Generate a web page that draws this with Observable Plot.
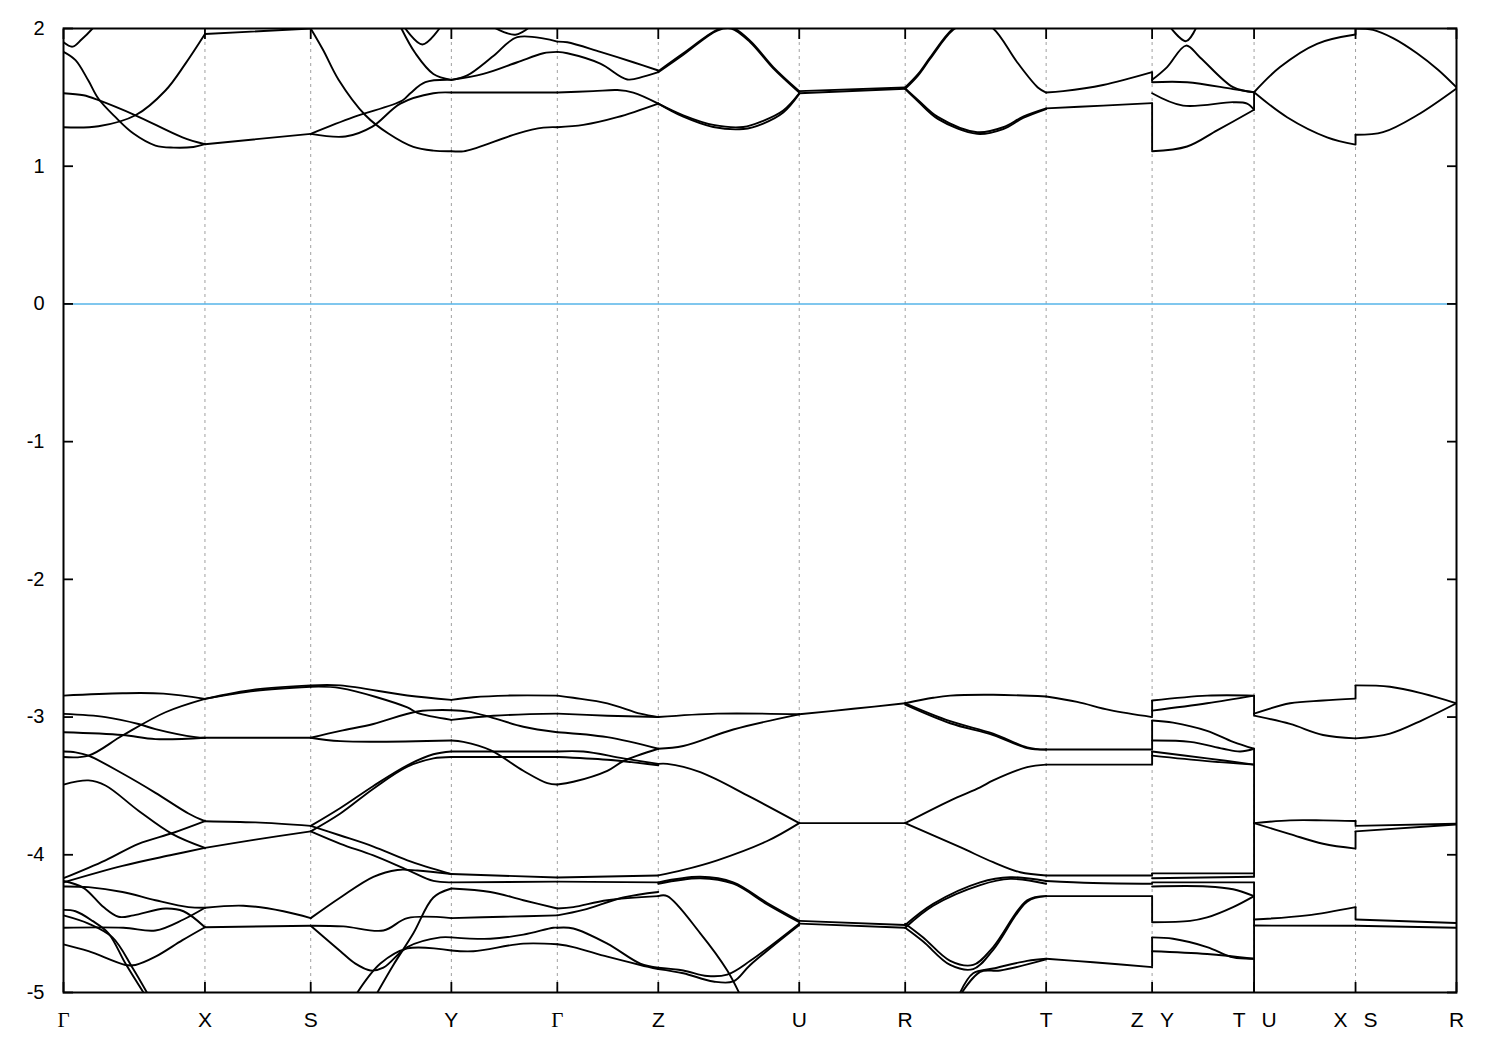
<!DOCTYPE html>
<html><head><meta charset="utf-8">
<script src="https://cdn.jsdelivr.net/npm/d3@7"></script>
<script src="https://cdn.jsdelivr.net/npm/@observablehq/plot@0.6"></script>
<style>body{margin:0;background:#fff} #chart{width:1500px;height:1050px}</style>
</head><body><div id="chart"></div>
<script>
// k-path positions of the high-symmetry points (path length units)
const kNodes = [0, 1.415, 2.473, 3.88, 4.94, 5.95, 7.36, 8.42, 9.83, 10.89, 11.91, 12.925, 13.935];
const kNames = ["Γ","X","S","Y","Γ","Z","U","R","T","Z|Y","T|U","X|S","R"];
const yTicks = [-5, -4, -3, -2, -1, 0, 1, 2];
const fermiLevel = [0];

// Conduction bands: each band is a list of [k, E(eV)]
const conductionBands = [
  // Γ–X
  [[0,1.90],[0.09,1.868],[0.18,1.92],[0.29,2.0],[0.4,2.1]],
  [[0,1.83],[0.12,1.77],[0.25,1.62],[0.35,1.49],[0.52,1.356],[0.7,1.237],[0.92,1.15],[1.1,1.135],[1.3,1.14],[1.415,1.16]],
  [[0,1.53],[0.2,1.515],[0.35,1.48],[0.72,1.37],[1.19,1.21],[1.415,1.16]],
  [[0,1.283],[0.35,1.29],[0.72,1.37],[1.02,1.55],[1.22,1.745],[1.415,1.96]],
  // X–S
  [[1.415,1.96],[2.473,2.0]],
  [[1.415,1.16],[2.473,1.235]],
  // S–Y
  [[2.473,2.0],[2.6,1.84],[2.75,1.63],[3.02,1.37],[3.25,1.237],[3.5,1.14],[3.7,1.113],[3.88,1.109]],
  [[2.473,1.235],[2.9,1.356],[3.39,1.477],[3.47,1.53],[3.62,1.61],[3.88,1.627]],
  [[2.473,1.235],[2.82,1.216],[3.09,1.288],[3.37,1.455],[3.7,1.53],[3.88,1.535]],
  [[3.38,2.0],[3.52,1.82],[3.7,1.67],[3.88,1.627]],
  [[3.4,2.02],[3.59,1.884],[3.78,2.02]],
  // Y–Γ
  [[3.88,1.109],[4.0,1.108],[4.14,1.135],[4.54,1.237],[4.8,1.28],[4.94,1.283]],
  [[3.88,1.535],[4.94,1.535]],
  [[3.88,1.627],[4.2,1.67],[4.54,1.755],[4.8,1.82],[4.94,1.83]],
  [[3.88,1.627],[4.04,1.66],[4.3,1.80],[4.54,1.937],[4.94,1.905]],
  [[4.3,2.01],[4.52,1.955],[4.68,2.02]],
  // Γ–Z
  [[4.94,1.283],[5.2,1.30],[5.54,1.356],[5.95,1.455]],
  [[4.94,1.535],[5.3,1.545],[5.54,1.553],[5.7,1.535],[5.95,1.455]],
  [[4.94,1.83],[5.04,1.82],[5.37,1.745],[5.64,1.63],[5.8,1.65],[5.95,1.683]],
  [[4.94,1.905],[5.04,1.90],[5.37,1.83],[5.7,1.755],[5.95,1.695]],
  // Z–U
  [[5.95,1.69],[6.2,1.82],[6.54,1.99],[6.68,2.01],[6.87,1.91],[7.1,1.72],[7.36,1.545]],
  [[5.95,1.683],[6.2,1.81],[6.54,1.985],[6.68,2.0],[6.87,1.90],[7.1,1.71],[7.36,1.535]],
  [[5.95,1.455],[6.2,1.37],[6.5,1.30],[6.8,1.285],[7.0,1.33],[7.2,1.405],[7.36,1.53]],
  [[5.95,1.455],[6.2,1.36],[6.5,1.285],[6.8,1.27],[7.0,1.31],[7.2,1.39],[7.36,1.525]],
  // U–R
  [[7.36,1.545],[8.42,1.572]],
  [[7.36,1.53],[8.42,1.562]],
  // R–T
  [[8.42,1.572],[8.55,1.67],[8.67,1.79],[8.9,2.0],[9.1,2.07],[9.3,2.0],[9.54,1.755],[9.75,1.57],[9.83,1.535]],
  [[8.42,1.562],[8.55,1.66],[8.67,1.78],[8.9,1.99],[9.1,2.06]],
  [[8.42,1.565],[8.55,1.48],[8.75,1.356],[9.14,1.247],[9.4,1.283],[9.6,1.36],[9.83,1.42]],
  [[8.42,1.56],[8.55,1.47],[8.75,1.342],[9.14,1.235],[9.4,1.27],[9.6,1.35],[9.83,1.415]],
  // T–Z
  [[9.83,1.535],[10.0,1.545],[10.4,1.59],[10.89,1.683]],
  [[9.83,1.42],[10.4,1.44],[10.89,1.458]],
  // Y–T
  [[10.89,1.61],[11.24,1.61],[11.7,1.56],[11.91,1.537]],
  [[10.89,1.627],[11.04,1.72],[11.23,1.876],[11.37,1.79],[11.7,1.574],[11.91,1.537]],
  [[11.06,2.02],[11.23,1.908],[11.34,2.02]],
  [[10.89,1.53],[11.2,1.44],[11.7,1.465],[11.84,1.455],[11.91,1.41]],
  [[10.89,1.109],[11.24,1.143],[11.54,1.26],[11.91,1.41]],
  // U–X
  [[11.91,1.537],[12.17,1.72],[12.54,1.889],[12.925,1.956]],
  [[11.91,1.537],[12.24,1.356],[12.64,1.21],[12.925,1.157]],
  // S–R
  [[12.925,2.0],[13.1,1.99],[13.3,1.93],[13.54,1.82],[13.75,1.7],[13.935,1.572]],
  [[12.925,1.228],[13.2,1.247],[13.54,1.37],[13.935,1.565]]
];

// Valence bands: each band is a list of [k, E(eV)]
const valenceBands = [
  // Γ–X
  [[0,-2.844],[0.59,-2.827],[1.0,-2.83],[1.415,-2.868]],
  [[0,-3.29],[0.25,-3.28],[0.59,-3.134],[1.02,-2.965],[1.415,-2.868]],
  [[0,-2.977],[0.42,-3.0],[0.75,-3.05],[0.92,-3.088],[1.32,-3.146],[1.415,-3.15]],
  [[0,-3.11],[0.59,-3.13],[0.92,-3.16],[1.415,-3.15]],
  [[0,-3.25],[0.12,-3.256],[0.25,-3.28],[0.59,-3.41],[0.92,-3.55],[1.25,-3.7],[1.415,-3.756]],
  [[0,-3.49],[0.25,-3.46],[0.42,-3.497],[0.75,-3.68],[1.09,-3.85],[1.415,-3.95]],
  [[0,-4.17],[0.42,-4.04],[0.75,-3.92],[1.1,-3.84],[1.415,-3.756]],
  [[0,-4.2],[0.59,-4.08],[1.09,-4.0],[1.415,-3.95]],
  [[0,-4.23],[0.25,-4.235],[0.59,-4.27],[0.92,-4.33],[1.25,-4.38],[1.415,-4.385]],
  [[0,-4.19],[0.2,-4.24],[0.4,-4.38],[0.55,-4.45],[0.7,-4.44],[1.02,-4.39],[1.2,-4.41],[1.415,-4.526]],
  [[0,-4.53],[0.6,-4.53],[0.92,-4.55],[1.2,-4.47],[1.415,-4.385]],
  [[0,-4.40],[0.12,-4.41],[0.29,-4.48],[0.45,-4.57],[0.62,-4.79],[0.8,-5.0]],
  [[0,-4.44],[0.25,-4.5],[0.49,-4.6],[0.69,-4.82],[0.85,-5.02]],
  [[0,-4.65],[0.25,-4.70],[0.62,-4.80],[0.72,-4.8],[0.92,-4.74],[1.19,-4.62],[1.415,-4.526]],
  // X–S
  [[1.415,-2.868],[1.92,-2.80],[2.473,-2.77]],
  [[1.415,-2.868],[1.92,-2.81],[2.473,-2.78]],
  [[1.415,-3.15],[2.473,-3.15]],
  [[1.415,-3.756],[1.92,-3.765],[2.473,-3.79]],
  [[1.415,-3.95],[1.92,-3.89],[2.473,-3.83]],
  [[1.415,-4.385],[1.8,-4.37],[2.2,-4.41],[2.473,-4.46]],
  [[1.415,-4.526],[2.473,-4.515]],
  // S–Y
  [[2.473,-2.77],[2.77,-2.77],[3.44,-2.843],[3.88,-2.875]],
  [[2.473,-2.78],[2.77,-2.79],[3.44,-2.93],[3.54,-2.97],[3.88,-3.02]],
  [[2.473,-3.15],[2.77,-3.1],[3.1,-3.05],[3.54,-2.96],[3.88,-2.95]],
  [[2.473,-3.15],[2.77,-3.175],[3.88,-3.17]],
  [[2.473,-3.79],[2.77,-3.66],[3.1,-3.5],[3.44,-3.35],[3.7,-3.27],[3.88,-3.25]],
  [[2.473,-3.83],[2.77,-3.70],[3.1,-3.52],[3.44,-3.36],[3.7,-3.3],[3.88,-3.29]],
  [[2.473,-3.79],[2.77,-3.86],[3.1,-3.94],[3.44,-4.04],[3.88,-4.14]],
  [[2.473,-3.83],[2.77,-3.92],[3.1,-4.005],[3.44,-4.11],[3.7,-4.19],[3.88,-4.2]],
  [[2.473,-4.46],[2.77,-4.31],[3.1,-4.16],[3.34,-4.11],[3.54,-4.114],[3.88,-4.14]],
  [[2.473,-4.515],[2.8,-4.52],[3.2,-4.55],[3.44,-4.46],[3.88,-4.46]],
  [[2.473,-4.515],[2.77,-4.7],[2.92,-4.79],[3.07,-4.84],[3.2,-4.82],[3.44,-4.67],[3.77,-4.6],[3.88,-4.6]],
  [[2.94,-5.0],[3.17,-4.79],[3.44,-4.68],[3.88,-4.695]],
  [[3.14,-5.0],[3.3,-4.8],[3.5,-4.57],[3.7,-4.31],[3.88,-4.245]],
  // Y–Γ
  [[3.88,-2.875],[4.1,-2.856],[4.44,-2.844],[4.94,-2.844]],
  [[3.88,-3.02],[4.3,-2.99],[4.94,-2.975]],
  [[3.88,-2.95],[4.05,-2.96],[4.27,-3.0],[4.6,-3.07],[4.94,-3.11]],
  [[3.88,-3.17],[4.0,-3.18],[4.27,-3.24],[4.6,-3.39],[4.84,-3.48],[4.94,-3.49]],
  [[3.88,-3.25],[4.94,-3.25]],
  [[3.88,-3.29],[4.94,-3.29]],
  [[3.88,-4.14],[4.94,-4.165]],
  [[3.88,-4.2],[4.94,-4.195]],
  [[3.88,-4.245],[4.27,-4.27],[4.6,-4.33],[4.94,-4.39]],
  [[3.88,-4.46],[4.4,-4.45],[4.94,-4.44]],
  [[3.88,-4.6],[4.27,-4.61],[4.6,-4.58],[4.9,-4.53],[4.94,-4.53]],
  [[3.88,-4.695],[4.1,-4.7],[4.6,-4.645],[4.94,-4.65]],
  // Γ–Z
  [[4.94,-2.844],[5.1,-2.86],[5.44,-2.9],[5.77,-2.975],[5.95,-3.0]],
  [[4.94,-2.975],[5.44,-2.99],[5.95,-3.0]],
  [[4.94,-3.11],[5.44,-3.146],[5.95,-3.23]],
  [[4.94,-3.49],[5.1,-3.47],[5.44,-3.39],[5.6,-3.32],[5.95,-3.23]],
  [[4.94,-3.25],[5.2,-3.25],[5.6,-3.3],[5.95,-3.34]],
  [[4.94,-3.29],[5.44,-3.31],[5.95,-3.35]],
  [[4.94,-4.165],[5.95,-4.15]],
  [[4.94,-4.195],[5.95,-4.2]],
  [[4.94,-4.39],[5.1,-4.38],[5.44,-4.33],[5.95,-4.3]],
  [[4.94,-4.44],[5.2,-4.4],[5.6,-4.31],[5.95,-4.27]],
  [[4.94,-4.53],[5.1,-4.535],[5.44,-4.645],[5.77,-4.79],[5.95,-4.82]],
  [[4.94,-4.65],[5.1,-4.67],[5.44,-4.74],[5.77,-4.8],[5.95,-4.83]],
  // Z–U
  [[5.95,-3.0],[6.54,-2.975],[7.36,-2.98]],
  [[5.95,-3.23],[6.2,-3.21],[6.7,-3.09],[7.36,-2.98]],
  [[5.95,-3.34],[6.04,-3.34],[6.37,-3.4],[6.87,-3.58],[7.36,-3.77]],
  [[5.95,-4.15],[6.2,-4.11],[6.54,-4.04],[7.04,-3.9],[7.36,-3.77]],
  [[5.95,-4.2],[6.37,-4.16],[6.7,-4.2],[7.04,-4.35],[7.36,-4.48]],
  [[5.95,-4.21],[6.37,-4.17],[6.7,-4.21],[7.04,-4.36],[7.36,-4.49]],
  [[5.95,-4.3],[6.04,-4.3],[6.37,-4.57],[6.64,-4.84],[6.77,-5.02]],
  [[5.95,-4.82],[6.2,-4.84],[6.44,-4.88],[6.64,-4.87],[6.87,-4.77],[7.36,-4.5]],
  [[5.95,-4.83],[6.2,-4.86],[6.5,-4.92],[6.7,-4.92],[6.87,-4.8],[7.36,-4.51]],
  // U–R
  [[7.36,-2.98],[7.9,-2.94],[8.42,-2.9]],
  [[7.36,-3.77],[8.42,-3.77]],
  [[7.36,-4.48],[8.42,-4.51]],
  [[7.36,-4.5],[8.42,-4.53]],
  // R–T
  [[8.42,-2.9],[8.7,-2.86],[8.87,-2.844],[9.3,-2.838],[9.83,-2.851]],
  [[8.42,-2.9],[8.87,-3.03],[9.3,-3.12],[9.64,-3.22],[9.83,-3.236]],
  [[8.42,-2.91],[8.87,-3.045],[9.3,-3.13],[9.64,-3.225],[9.83,-3.236]],
  [[8.42,-3.77],[8.87,-3.606],[9.17,-3.51],[9.3,-3.46],[9.64,-3.364],[9.83,-3.345]],
  [[8.42,-3.77],[8.97,-3.945],[9.3,-4.054],[9.57,-4.127],[9.83,-4.15]],
  [[8.42,-4.51],[8.7,-4.356],[9.17,-4.2],[9.47,-4.163],[9.83,-4.19]],
  [[8.42,-4.53],[8.7,-4.37],[9.17,-4.22],[9.47,-4.175],[9.83,-4.21]],
  [[8.42,-4.5],[8.6,-4.6],[8.87,-4.77],[9.1,-4.8],[9.3,-4.67],[9.64,-4.33],[9.83,-4.3]],
  [[8.42,-4.53],[8.6,-4.63],[8.87,-4.8],[9.1,-4.83],[9.3,-4.69],[9.64,-4.34],[9.83,-4.3]],
  [[8.97,-5.0],[9.1,-4.86],[9.3,-4.826],[9.64,-4.77],[9.83,-4.755]],
  [[8.97,-5.02],[9.17,-4.85],[9.37,-4.84],[9.83,-4.76]],
  // T–Z
  [[9.83,-2.851],[10.14,-2.89],[10.47,-2.95],[10.89,-3.0]],
  [[9.83,-3.236],[10.89,-3.236]],
  [[9.83,-3.345],[10.89,-3.345]],
  [[9.83,-4.15],[10.89,-4.15]],
  [[9.83,-4.19],[10.3,-4.205],[10.89,-4.21]],
  [[9.83,-4.3],[10.89,-4.3]],
  [[9.83,-4.755],[10.3,-4.78],[10.89,-4.816]],
  // Y–T
  [[10.89,-2.88],[11.44,-2.844],[11.91,-2.844]],
  [[10.89,-2.953],[11.44,-2.9],[11.91,-2.844]],
  [[10.89,-3.025],[11.1,-3.04],[11.44,-3.1],[11.7,-3.18],[11.91,-3.23]],
  [[10.89,-3.17],[11.27,-3.18],[11.6,-3.23],[11.77,-3.25],[11.91,-3.23]],
  [[10.89,-3.25],[11.44,-3.3],[11.91,-3.345]],
  [[10.89,-3.28],[11.44,-3.32],[11.91,-3.345]],
  [[10.89,-4.135],[11.91,-4.135]],
  [[10.89,-4.17],[11.91,-4.16]],
  [[10.89,-4.2],[11.91,-4.2]],
  [[10.89,-4.23],[11.44,-4.23],[11.7,-4.25],[11.91,-4.3]],
  [[10.89,-4.49],[11.27,-4.48],[11.44,-4.455],[11.7,-4.38],[11.91,-4.3]],
  [[10.89,-4.6],[11.1,-4.61],[11.44,-4.67],[11.7,-4.745],[11.91,-4.755]],
  [[10.89,-4.7],[11.44,-4.72],[11.91,-4.755]],
  // U–X
  [[11.91,-2.975],[12.27,-2.9],[12.6,-2.88],[12.925,-2.866]],
  [[11.91,-2.99],[12.27,-3.05],[12.6,-3.13],[12.925,-3.155]],
  [[11.91,-3.77],[12.27,-3.75],[12.6,-3.75],[12.925,-3.755]],
  [[11.91,-3.77],[12.27,-3.85],[12.6,-3.92],[12.925,-3.955]],
  [[11.91,-4.47],[12.44,-4.44],[12.925,-4.38]],
  [[11.91,-4.514],[12.925,-4.515]],
  // S–R
  [[12.925,-2.77],[13.27,-2.78],[13.6,-2.83],[13.935,-2.9]],
  [[12.925,-3.155],[13.27,-3.12],[13.6,-3.02],[13.935,-2.9]],
  [[12.925,-3.79],[13.935,-3.775]],
  [[12.925,-3.83],[13.935,-3.78]],
  [[12.925,-4.47],[13.935,-4.495]],
  [[12.925,-4.515],[13.935,-4.53]]
];

// Discontinuities at Z|Y, T|U, X|S: [k, E before, E after]
const bandJumps = [
  [10.89,1.458,1.109],[10.89,1.683,1.61],
  [11.91,1.41,1.537],
  [12.925,1.157,1.228],[12.925,1.956,2.0],
  [10.89,-3.0,-2.88],[10.89,-3.236,-3.025],[10.89,-3.345,-3.25],[10.89,-4.15,-4.135],[10.89,-4.3,-4.49],[10.89,-4.816,-4.6],
  [11.91,-2.844,-2.99],[11.91,-3.23,-3.345],[11.91,-3.345,-4.16],[11.91,-4.2,-5.0],
  [12.925,-2.866,-2.77],[12.925,-3.755,-3.79],[12.925,-3.955,-3.83],[12.925,-4.38,-4.47]
];

const bandRows = [...conductionBands, ...valenceBands].flatMap((b, i) =>
  b.map(([k, e]) => ({k, e, band: i})));
const jumpRows = bandJumps.map(([k, e1, e2]) => ({k, e1, e2}));

const labelRows = [];
kNodes.forEach((k, i) => {
  const parts = kNames[i].split("|");
  if (parts.length === 1) labelRows.push({k, text: parts[0], side: 0});
  else { labelRows.push({k, text: parts[0], side: -1}); labelRows.push({k, text: parts[1], side: 1}); }
});
const gridK = kNodes.slice(1, -1);

const sans = "'Liberation Sans', Arial, sans-serif";
const serif = "'Liberation Serif', 'DejaVu Serif', serif";
const labelMark = (side, dx, serifOnly) => Plot.text(
  labelRows.filter(d => d.side === side && ((d.text === "Γ") === serifOnly)),
  {x: "k", text: "text", frameAnchor: "bottom", dy: 34, dx, fontSize: 21,
   fontFamily: serifOnly ? serif : sans, fill: "black"});

const chart = Plot.plot({
  width: 1500, height: 1050,
  marginTop: 28, marginBottom: 58, marginLeft: 63, marginRight: 44,
  style: {fontFamily: sans, fontSize: "20px", background: "white", color: "black"},
  x: {domain: [0, 13.935], axis: null},
  y: {domain: [-5, 2], axis: null},
  marks: [
    Plot.ruleX(gridK, {stroke: "#a0a0a0", strokeWidth: 1, strokeDasharray: "3,4"}),
    Plot.ruleY(fermiLevel, {stroke: "#56b4e9", strokeWidth: 1.5}),
    Plot.line(bandRows, {x: "k", y: "e", z: "band", curve: "catmull-rom", stroke: "black", strokeWidth: 1.9, clip: true}),
    Plot.ruleX(jumpRows, {x: "k", y1: "e1", y2: "e2", stroke: "black", strokeWidth: 1.9, clip: true}),
    Plot.axisY(yTicks, {anchor: "left", tickSize: 0, tickPadding: 19, tickFormat: d => `${d}`, label: null, fontSize: 20}),
    Plot.axisY(yTicks, {anchor: "left", tickSize: -10, tickFormat: () => "", label: null, strokeWidth: 1.8}),
    Plot.axisY(yTicks, {anchor: "right", tickSize: -10, tickFormat: () => "", label: null, strokeWidth: 1.8}),
    Plot.axisX(kNodes, {anchor: "bottom", tickSize: -10, tickFormat: () => "", label: null, strokeWidth: 1.8}),
    Plot.axisX(kNodes, {anchor: "top", tickSize: -10, tickFormat: () => "", label: null, strokeWidth: 1.8}),
    Plot.frame({stroke: "black", strokeWidth: 2}),
    labelMark(0, 0, false),
    labelMark(0, 0, true),
    labelMark(-1, -15, false),
    labelMark(1, 15, false)
  ]
});
document.getElementById("chart").appendChild(chart);
</script>
</body></html>
